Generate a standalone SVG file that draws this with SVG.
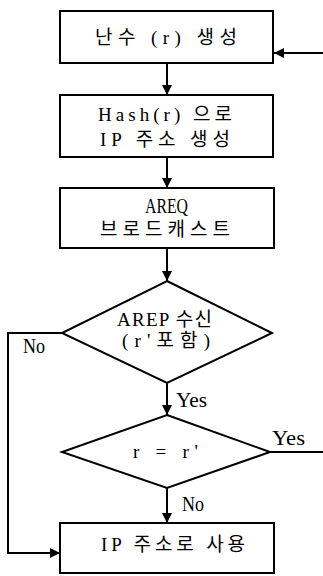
<svg xmlns="http://www.w3.org/2000/svg" width="323" height="576" viewBox="0 0 323 576">
<style>
.shape{fill:#fff;stroke:#000;stroke-width:2}
.conn{fill:none;stroke:#000;stroke-width:2}
text{font-family:"Liberation Serif","Times New Roman","Noto Sans CJK KR",serif;font-size:19px;fill:#000}
.lbl{font-size:22px}
</style>
<defs>
<marker id="arr" viewBox="0 0 10 10" refX="10" refY="5" markerWidth="6" markerHeight="5" orient="auto" markerUnits="strokeWidth">
<path d="M0,0 L10,5 L0,10 z" fill="#000"/>
</marker>
</defs>
<rect width="323" height="576" fill="#fff"/>
<g id="connectors">
<line class="conn" x1="323" y1="53" x2="274" y2="53" marker-end="url(#arr)"/>
<line class="conn" x1="167" y1="63" x2="167" y2="95" marker-end="url(#arr)"/>
<line class="conn" x1="167" y1="157" x2="167" y2="188" marker-end="url(#arr)"/>
<line class="conn" x1="167" y1="248" x2="167" y2="281" marker-end="url(#arr)"/>
<line class="conn" x1="167" y1="383" x2="167" y2="415" marker-end="url(#arr)"/>
<polyline class="conn" points="62,333 8,333 8,553 60,553" marker-end="url(#arr)"/>
<line class="conn" x1="270" y1="452" x2="323" y2="452"/>
<line class="conn" x1="167" y1="488" x2="167" y2="523" marker-end="url(#arr)"/>
<text class="lbl" x="23" y="353" textLength="22" lengthAdjust="spacingAndGlyphs">No</text>
<text class="lbl" x="176" y="407" textLength="31" lengthAdjust="spacingAndGlyphs">Yes</text>
<text class="lbl" x="272" y="445" textLength="33" lengthAdjust="spacingAndGlyphs">Yes</text>
<text class="lbl" x="182" y="511" textLength="22" lengthAdjust="spacingAndGlyphs">No</text>
</g>
<g id="n1">
<rect class="shape" x="60" y="11" width="213" height="52"/>
<text x="95" y="44" textLength="142" lengthAdjust="spacing">난수 (r) 생성</text>
</g>
<g id="n2">
<rect class="shape" x="60" y="95" width="213" height="62"/>
<text x="98" y="121" textLength="134" lengthAdjust="spacing">Hash(r) 으로</text>
<text x="100" y="146" textLength="130" lengthAdjust="spacing">IP 주소 생성</text>
</g>
<g id="n3">
<rect class="shape" x="60" y="188" width="214" height="60"/>
<text class="lbl" x="145" y="213" textLength="43" lengthAdjust="spacingAndGlyphs">AREQ</text>
<text x="100" y="236" textLength="130" lengthAdjust="spacing">브로드캐스트</text>
</g>
<g id="d1">
<polygon class="shape" points="167,281 272,333 167,383 62,333"/>
<text x="117" y="326" textLength="95" lengthAdjust="spacing">AREP 수신</text>
<text x="122" y="347" textLength="88" lengthAdjust="spacing">(r'포함)</text>
</g>
<g id="d2">
<polygon class="shape" points="167,415 270,452 167,488 62,452"/>
<text x="133" y="458" textLength="65" lengthAdjust="spacing">r = r'</text>
</g>
<g id="n4">
<rect class="shape" x="60" y="523" width="214" height="50"/>
<text x="101" y="551" textLength="144" lengthAdjust="spacing">IP 주소로 사용</text>
</g>
</svg>
